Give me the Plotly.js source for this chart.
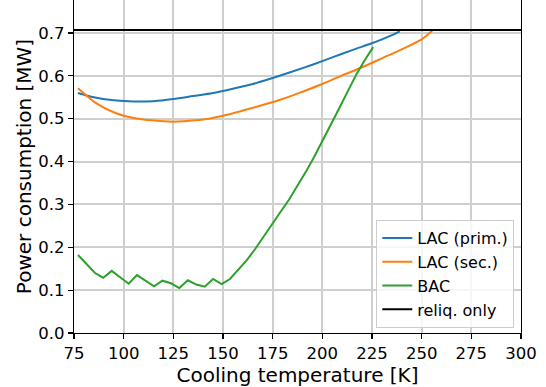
<!DOCTYPE html>
<html>
<head>
<meta charset="utf-8">
<script src="https://cdn.plot.ly/plotly-3.0.1.min.js"></script>
<style>html,body{margin:0;padding:0;background:#fff}#chart{width:546px;height:387px}</style>
</head>
<body>
<div id="chart"></div>
<script>
// LAC (prim.)
const lacPrimT = [77, 85, 95, 105, 115, 125, 135, 145, 155, 165, 175, 185, 195, 205, 215, 225, 230, 235, 239];
const lacPrimP = [0.560, 0.550, 0.543, 0.540, 0.541, 0.546, 0.553, 0.560, 0.570, 0.581, 0.595, 0.610, 0.626, 0.643, 0.660, 0.676, 0.685, 0.695, 0.704];
// LAC (sec.)
const lacSecT = [77, 85, 90, 95, 100, 110, 120, 125, 130, 140, 150, 160, 170, 180, 190, 200, 210, 220, 230, 240, 250, 255.3];
const lacSecP = [0.571, 0.540, 0.526, 0.515, 0.507, 0.498, 0.494, 0.493, 0.494, 0.498, 0.507, 0.519, 0.532, 0.546, 0.563, 0.581, 0.601, 0.620, 0.641, 0.662, 0.685, 0.705];
// BAC
const bacT = [77, 81.3, 85.6, 89.7, 94, 98.2, 102.5, 106.7, 111, 115.3, 119.5, 123.8, 128, 132.3, 136.6, 140.8, 145, 149.3, 153.5,
              157.7, 162, 166.2, 170.5, 174.7, 179, 183.2, 187.4, 191.7, 196, 200.2, 204.4, 208.7, 212.9, 217.2, 221.4, 225.6];
const bacP = [0.182, 0.160, 0.140, 0.129, 0.145, 0.130, 0.115, 0.135, 0.122, 0.109, 0.122, 0.116, 0.105, 0.123, 0.113, 0.108, 0.126, 0.114, 0.126,
              0.147, 0.170, 0.196, 0.226, 0.256, 0.283, 0.311, 0.343, 0.376, 0.412, 0.449, 0.487, 0.526, 0.565, 0.604, 0.637, 0.667];
// reliq. only (horizontal level across the axis)
const reliqT = [75, 300];
const reliqLevel = 0.707;

const xTicks = [75, 100, 125, 150, 175, 200, 225, 250, 275, 300];
const yTicks = [0.0, 0.1, 0.2, 0.3, 0.4, 0.5, 0.6, 0.7];

const font = "DejaVu Sans, sans-serif";
const traces = [
  {x: lacPrimT, y: lacPrimP, name: "LAC (prim.)", mode: "lines", line: {color: "#1f77b4", width: 2, shape: "spline", smoothing: 0.8}},
  {x: lacSecT, y: lacSecP, name: "LAC (sec.)", mode: "lines", line: {color: "#ff7f0e", width: 2, shape: "spline", smoothing: 0.8}},
  {x: bacT, y: bacP, name: "BAC", mode: "lines", line: {color: "#2ca02c", width: 2}},
  {x: reliqT, y: reliqT.map(() => reliqLevel), name: "reliq. only", mode: "lines", line: {color: "#000000", width: 2}}
];
const layout = {
  width: 546, height: 387,
  margin: {l: 74, r: 25, t: 0, b: 54},
  paper_bgcolor: "#fff", plot_bgcolor: "#fff",
  font: {family: font, size: 16, color: "#000"},
  showlegend: true,
  legend: {
    x: 0.985, y: 0.015, xanchor: "right", yanchor: "bottom",
    bgcolor: "rgba(255,255,255,0.8)", bordercolor: "#cccccc", borderwidth: 1,
    font: {family: font, size: 16, color: "#000"},
    itemwidth: 30, tracegroupgap: 0
  },
  xaxis: {
    range: [75, 300], tickvals: xTicks, ticktext: xTicks.map(String),
    showgrid: true, gridcolor: "#cfcfcf", gridwidth: 2,
    zeroline: false, showline: true, linecolor: "#000", linewidth: 1.2, mirror: true,
    ticks: "outside", ticklen: 5, tickwidth: 1.2, tickcolor: "#000",
    tickfont: {family: font, size: 16.5, color: "#000"},
    title: {text: "Cooling temperature [K]", font: {family: font, size: 20, color: "#000"}, standoff: 2}
  },
  yaxis: {
    range: [0, 0.777], tickvals: yTicks, ticktext: yTicks.map(v => v.toFixed(1)),
    showgrid: true, gridcolor: "#cfcfcf", gridwidth: 2,
    zeroline: false, showline: true, linecolor: "#000", linewidth: 1.2, mirror: true,
    ticks: "outside", ticklen: 5, tickwidth: 1.2, tickcolor: "#000",
    tickfont: {family: font, size: 16.5, color: "#000"},
    title: {text: "Power consumption [MW]", font: {family: font, size: 20, color: "#000"}, standoff: 1}
  }
};
Plotly.newPlot("chart", traces, layout, {staticPlot: true, displayModeBar: false});
</script>
</body>
</html>
